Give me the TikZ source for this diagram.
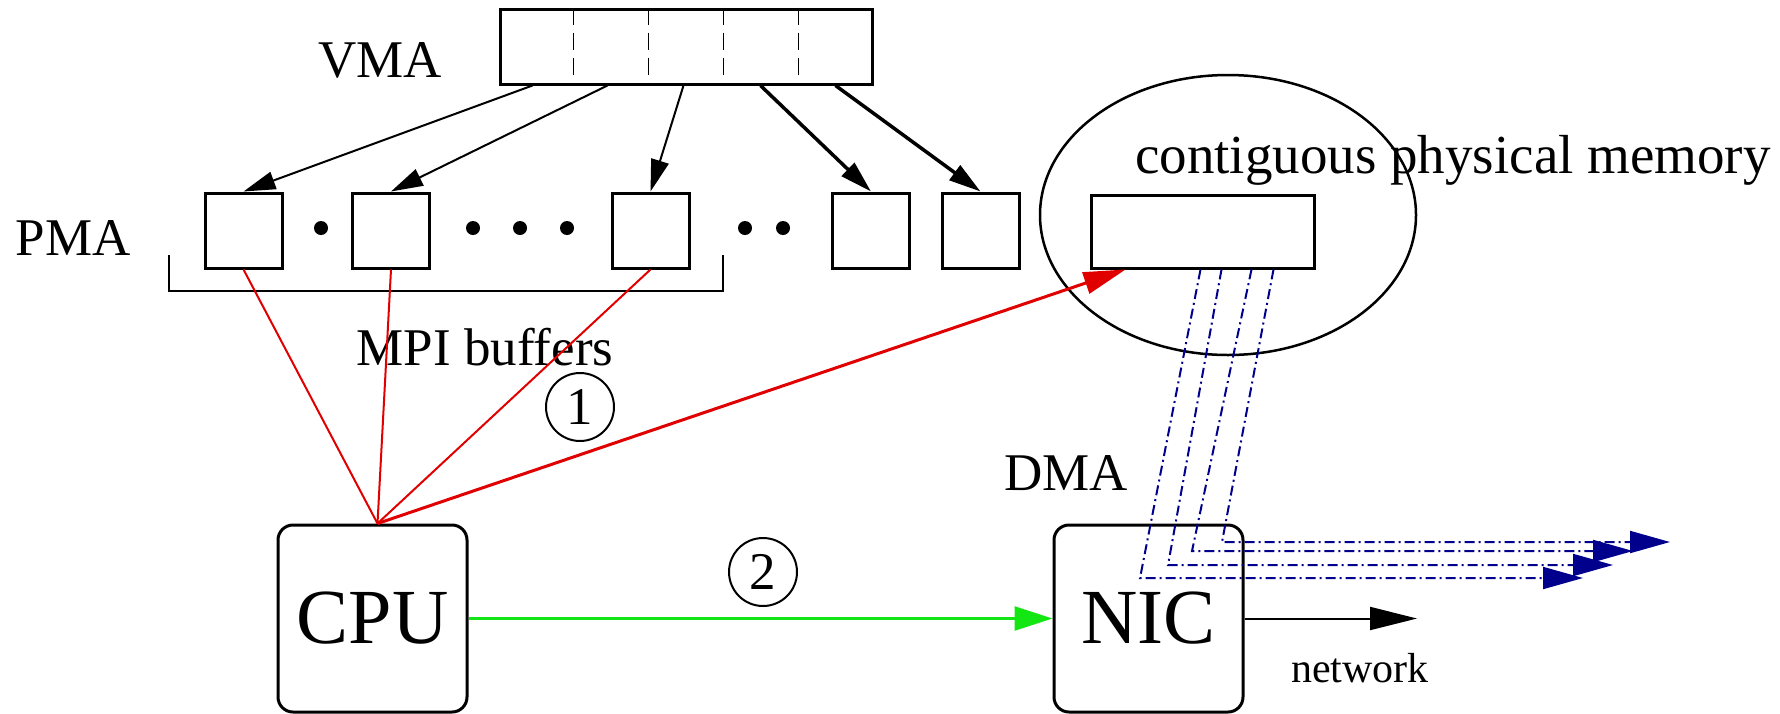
\documentclass[tikz,border=0pt]{standalone}
\usepackage{fontspec}
\setmainfont{Liberation Serif}
\usetikzlibrary{arrows.meta, calc}

\definecolor{dmablue}{RGB}{0,0,140}
\definecolor{copyred}{RGB}{225,0,0}
\definecolor{sendgreen}{RGB}{20,230,20}

\begin{document}
\begin{tikzpicture}[x=1pt, y=-1pt, line width=3pt,
    mem/.style={draw, inner sep=0pt, minimum width=77pt, minimum height=75pt},
    unit/.style={draw, rounded corners=15pt, inner sep=0pt, minimum width=189pt,
      minimum height=187pt, font=\fontsize{78}{80}\selectfont},
    lbl/.style={anchor=base, inner sep=0pt, font=\fontsize{53}{60}\selectfont},
    seqnum/.style={draw, circle, line width=2pt, inner sep=0pt, minimum size=68pt,
      font=\fontsize{53}{60}\selectfont},
    pagediv/.style={line width=1.5pt, dash pattern=on 17pt off 8pt},
    map/.style={-{Triangle[length=32pt, width=18pt]}},
    copy/.style={copyred, line width=2pt},
    dma/.style={dmablue, line width=2pt, dash pattern=on 10pt off 4pt on 2pt off 4pt,
      -{Triangle[length=40pt, width=22pt]}}]
    \useasboundingbox (0,0) rectangle (1780,713);

    % virtual memory area, split in pages
    \node[mem, minimum width=372pt] (vma) at (686,46.5) {};
    \foreach \i in {1,...,4}
      \draw[pagediv] ($(vma.north west)!\i/5!(vma.north east)$) -- ($(vma.south west)!\i/5!(vma.south east)$);
    \node[lbl] (vmatext) at (380,77) {VMA};

    % physical pages
    \node[mem] (p1) at (243.5,230.5) {};
    \node[mem] (p2) at (391,230.5) {};
    \node[mem] (p3) at (650.5,230.5) {};
    \node[mem] (p4) at (871,230.5) {};
    \node[mem] (p5) at (980.5,230.5) {};
    \node[lbl] (pmatext) at (73,255) {PMA};
    \foreach \x in {321,473,520,567,745,783}
      \fill (\x,228) circle (7);

    % bracket round the MPI buffers
    \draw[line width=1.5pt] (169,255) -- (169,291) -- (723,291) -- (723,255);
    \node[lbl] (mpitext) at (485,365) {MPI buffers};

    % contiguous region
    \draw[line width=2.5pt] (1228,215) ellipse [x radius=188, y radius=140];
    \node[mem, minimum width=223pt, minimum height=73pt] (cmem) at (1202.5,231.5) {};
    \node[lbl, font=\fontsize{55}{60}\selectfont] (cmemtext) at (1453,173) {contiguous physical memory};

    % processor and network card
    \node[unit] (cpu) at (372.5,618.5) {CPU};
    \node[unit] (nic) at (1148.5,618.5) {NIC};

    % page table mapping
    \foreach \d/\p/\w in {34pt/p1/2pt, 109pt/p2/2pt, 185pt/p3/2pt, 262pt/p4/3.5pt, 337pt/p5/3.5pt}
      \draw[map, line width=\w] ([xshift=\d]vma.south west) -- (\p.north);

    % step 1: copy buffers
    \foreach \p in {p1,p2,p3}
      \draw[copy] ([xshift=5pt]cpu.north) -- (\p.south);
    \draw[copy, line width=3pt, -{Triangle[length=42pt, width=22pt]}]
      ([xshift=5pt]cpu.north) -- ([xshift=36pt]cmem.south west);
    \node[seqnum] (one) at (580,407) {1};

    % step 2: tell the NIC
    \draw[sendgreen, line width=2.5pt, -{Triangle[length=38pt, width=24pt]}] (cpu.east) -- (nic.west);
    \node[seqnum] (two) at (763,572) {2};

    % out to the network
    \coordinate (net) at (1417,618.5);
    \draw[line width=2pt, -{Triangle[length=47pt, width=23pt]}] (nic.east) -- (net);
    \node[lbl, font=\fontsize{42}{48}\selectfont] (nettext) at (1360,682) {network};

    % DMA transfers
    \node[lbl] (dmatext) at (1066,490) {DMA};
    \foreach \s/\cx/\cy/\e in {111pt/1140/578/1583, 132pt/1168/565/1613, 162pt/1192/551/1633, 184pt/1222/542/1670} {
      \coordinate (bend) at (\cx,\cy);
      \coordinate (tip) at (\e,\cy);
      \draw[dma] ([xshift=\s]cmem.south west) -- (bend) -- (tip);
    }
\end{tikzpicture}
\end{document}
